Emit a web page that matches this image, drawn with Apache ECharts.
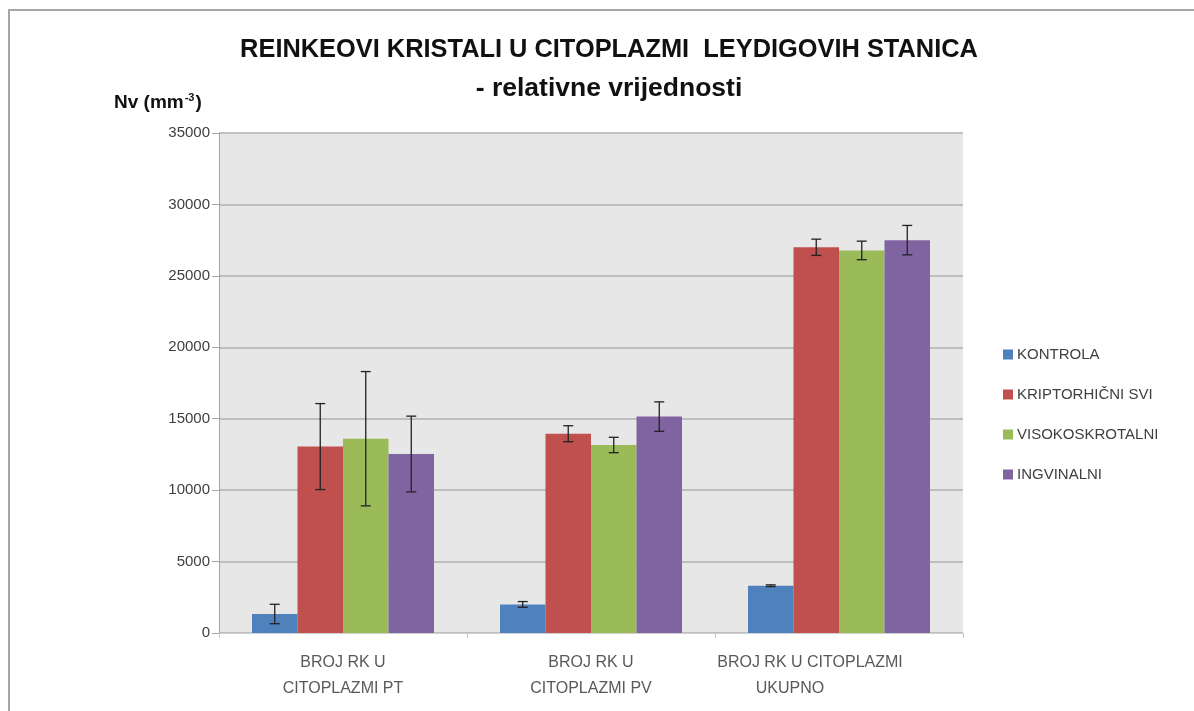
<!DOCTYPE html>
<html>
<head>
<meta charset="utf-8">
<script src="https://cdn.jsdelivr.net/npm/echarts@6/dist/echarts.min.js"></script>
<style>
html,body{margin:0;padding:0;background:#fff;}
#chart{width:1194px;height:711px;}
</style>
</head>
<body>
<div id="chart"></div>
<script>
const categories = ['BROJ RK U\nCITOPLAZMI PT', 'BROJ RK U\nCITOPLAZMI PV', 'BROJ RK U CITOPLAZMI\nUKUPNO'];
const seriesNames = ['KONTROLA', 'KRIPTORHIČNI SVI', 'VISOKOSKROTALNI', 'INGVINALNI'];
const kontrola = [1330, 2000, 3310];
const kontrolaErr = [680, 200, 60];
const kriptorhicni = [13050, 13950, 27000];
const kriptorhicniErr = [3010, 560, 570];
const visokoskrotalni = [13600, 13160, 26780];
const visokoskrotalniErr = [4700, 540, 650];
const ingvinalni = [12530, 15150, 27500];
const ingvinalniErr = [2650, 1030, 1030];
const yTicks = [0, 5000, 10000, 15000, 20000, 25000, 30000, 35000];

const colors = ['#4f81bd', '#c0504d', '#9bbb59', '#8064a2'];
const FONT = '"Liberation Sans", Arial, sans-serif';
const barGapPct = 26.6;

const values = [kontrola, kriptorhicni, visokoskrotalni, ingvinalni];
const errs = [kontrolaErr, kriptorhicniErr, visokoskrotalniErr, ingvinalniErr];

const errData = [];
values.forEach((arr, si) => {
  arr.forEach((v, ci) => {
    errData.push([ci, v - errs[si][ci], v + errs[si][ci], si]);
  });
});

const chart = echarts.init(document.getElementById('chart'));

const barSeries = seriesNames.map((name, i) => ({
  name: name,
  type: 'bar',
  data: values[i],
  barGap: '0%',
  barCategoryGap: barGapPct + '%',
  itemStyle: { color: colors[i] },
  emphasis: { disabled: true }
}));

const option = {
  animation: false,
  textStyle: { fontFamily: FONT },
  graphic: [{
    type: 'rect',
    shape: { x: 9, y: 10, width: 1300, height: 800 },
    style: { fill: 'none', stroke: '#a6a6a6', lineWidth: 2 },
    silent: true, z: -10
  }],
  title: [{
    text: '{t|REINKEOVI KRISTALI U CITOPLAZMI  LEYDIGOVIH STANICA}\n{u|- relativne vrijednosti}',
    left: 604, top: 25, textAlign: 'center',
    textStyle: {
      rich: {
        t: { fontFamily: FONT, fontWeight: 'bold', fontSize: 25.4, color: '#111', lineHeight: 39 },
        u: { fontFamily: FONT, fontWeight: 'bold', fontSize: 26.5, color: '#111', lineHeight: 39 }
      }
    }
  }, {
    text: '{a|Nv (mm}{s|-3}{a|)}',
    left: 109, top: 87,
    textStyle: {
      rich: {
        a: { fontFamily: FONT, fontWeight: 'bold', fontSize: 19, color: '#111', verticalAlign: 'bottom' },
        s: { fontFamily: FONT, fontWeight: 'bold', fontSize: 11, color: '#111', verticalAlign: 'top', padding: [0, 1, 9, 1] }
      }
    }
  }],
  legend: {
    orient: 'vertical',
    left: 998, top: 342,
    itemWidth: 10, itemHeight: 10, itemGap: 25,
    icon: 'rect',
    data: seriesNames,
    textStyle: { fontFamily: FONT, fontSize: 15, color: '#404040', padding: [0, 0, 0, -1] }
  },
  grid: {
    left: 219, right: 231, top: 133, bottom: 78,
    show: true, backgroundColor: '#e7e7e7', borderWidth: 0
  },
  xAxis: {
    type: 'category',
    data: categories,
    axisLine: { show: true, lineStyle: { color: '#d0d0d0', width: 1 } },
    axisTick: { show: true, length: 5, lineStyle: { color: '#c8c8c8' } },
    axisLabel: {
      fontFamily: FONT, fontSize: 16, color: '#595959', lineHeight: 26, margin: 17, interval: 0,
      formatter: function (val, idx) {
        const lines = val.split('\n');
        if (idx === 2) {
          return '{a|' + lines[0] + '}\n{b|' + lines[1] + '}';
        }
        return '{n|' + lines[0] + '}\n{n|' + lines[1] + '}';
      },
      rich: {
        n: { fontFamily: FONT, fontSize: 16, color: '#595959', lineHeight: 26 },
        a: { fontFamily: FONT, fontSize: 16, color: '#595959', lineHeight: 26, padding: [0, 58, 0, 0] },
        b: { fontFamily: FONT, fontSize: 16, color: '#595959', lineHeight: 26, padding: [0, 98, 0, 0] }
      }
    }
  },
  yAxis: {
    type: 'value',
    min: yTicks[0], max: yTicks[yTicks.length - 1], interval: yTicks[1] - yTicks[0],
    axisLine: { show: true, lineStyle: { color: '#a6a6a6', width: 1 } },
    axisTick: { show: true, length: 7, lineStyle: { color: '#a6a6a6' } },
    axisLabel: { fontFamily: FONT, fontSize: 15, color: '#404040', margin: 9, formatter: function (v) { return String(v); } },
    splitLine: { show: true, lineStyle: { color: '#b0b0b0', width: 1.5 } }
  },
  series: barSeries.concat([{
    type: 'custom',
    name: 'err',
    data: errData,
    z: 10,
    silent: true,
    encode: { x: 0, y: [1, 2] },
    renderItem: function (params, api) {
      const ci = api.value(0);
      const lo = api.value(1);
      const hi = api.value(2);
      const si = api.value(3);
      const catW = api.size([1, 0])[0];
      const barW = catW * (1 - barGapPct / 100) / 4;
      const pLo = api.coord([ci, lo]);
      const pHi = api.coord([ci, hi]);
      const x = pLo[0] + (si - 1.5) * barW;
      const cap = 5;
      const st = { stroke: '#222', lineWidth: 1.3 };
      return {
        type: 'group',
        children: [
          { type: 'line', shape: { x1: x, y1: pLo[1], x2: x, y2: pHi[1] }, style: st },
          { type: 'line', shape: { x1: x - cap, y1: pLo[1], x2: x + cap, y2: pLo[1] }, style: st },
          { type: 'line', shape: { x1: x - cap, y1: pHi[1], x2: x + cap, y2: pHi[1] }, style: st }
        ]
      };
    }
  }])
};
chart.setOption(option);
</script>
</body>
</html>
